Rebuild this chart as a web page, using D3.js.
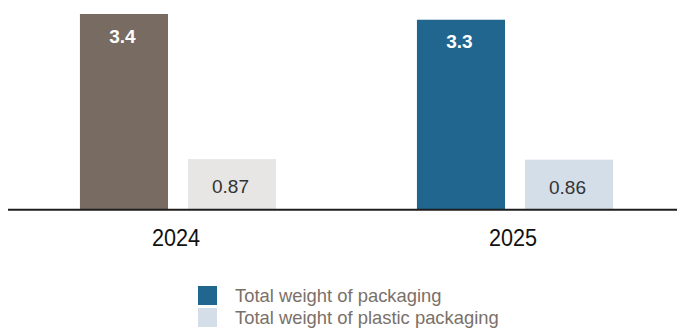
<!DOCTYPE html>
<html>
<head>
<meta charset="utf-8">
<script src="https://cdn.jsdelivr.net/npm/d3@7"></script>
<style>
  html, body { margin: 0; padding: 0; background: #fff; }
  svg { display: block; font-family: "Liberation Sans", Arial, sans-serif; }
</style>
</head>
<body>
<svg id="chart" width="677" height="328"></svg>
<script>
// Packaging weight per year
const years = ["2024", "2025"];
const seriesNames = ["Total weight of packaging", "Total weight of plastic packaging"];
const totalWeight = [3.4, 3.3];
const plasticWeight = [0.87, 0.86];
const valueLabels = [["3.4", "0.87"], ["3.3", "0.86"]];
// bar colours per year (total, plastic)
const yearColors = [["#786b61", "#e7e6e4"], ["#21668f", "#d4dee8"]];
const legendColors = ["#21668f", "#d4dee8"];

const rows = years.map((y, i) => ({
  year: y,
  values: [
    { key: seriesNames[0], value: totalWeight[i], label: valueLabels[i][0], color: yearColors[i][0], strong: true },
    { key: seriesNames[1], value: plasticWeight[i], label: valueLabels[i][1], color: yearColors[i][1], strong: false }
  ]
}));

const svg = d3.select("#chart");
const baseY = 209;

const x0 = d3.scaleBand().domain(years).range([9.5, 683.5])
  .paddingInner(0.418).paddingOuter(0.209);
const x1 = d3.scaleBand().domain(seriesNames).range([0, x0.bandwidth()])
  .paddingInner(0.185).paddingOuter(0);
const y = d3.scaleLinear().domain([0, 3.4]).range([baseY, 14]);

const groups = svg.selectAll("g.year").data(rows).join("g")
  .attr("class", "year")
  .attr("transform", d => `translate(${x0(d.year)},0)`);

groups.selectAll("rect").data(d => d.values).join("rect")
  .attr("x", d => x1(d.key))
  .attr("y", d => y(d.value))
  .attr("width", x1.bandwidth())
  .attr("height", d => y(0) - y(d.value))
  .attr("fill", d => d.color);

// value labels: inside top of tall bars, lower inside short bars
groups.selectAll("text.val").data(d => d.values).join("text")
  .attr("class", "val")
  .attr("x", d => x1(d.key) + x1.bandwidth() / 2 - 1.5)
  .attr("y", d => d.strong ? y(d.value) + 28.5 : y(d.value) + 34)
  .attr("text-anchor", "middle")
  .attr("font-size", 19)
  .attr("font-weight", d => d.strong ? "bold" : "normal")
  .attr("fill", d => d.strong ? "#ffffff" : "#333333")
  .text(d => d.label);

// baseline
svg.append("line")
  .attr("x1", 8).attr("x2", 677)
  .attr("y1", baseY + 0.8).attr("y2", baseY + 0.8)
  .attr("stroke", "#1e1e1e").attr("stroke-width", 2);

// year axis labels
const xAxis = d3.axisBottom(x0).tickSize(0).tickPadding(0);
const axisG = svg.append("g").attr("transform", `translate(0,${baseY})`).call(xAxis);
axisG.select(".domain").remove();
axisG.selectAll("text")
  .attr("dy", null)
  .attr("y", 37)
  .attr("x", -2)
  .attr("font-size", 23)
  .attr("textLength", 48)
  .attr("lengthAdjust", "spacingAndGlyphs")
  .attr("font-family", "\"Liberation Sans\", Arial, sans-serif")
  .attr("fill", "#111");

// legend
const legend = svg.append("g").attr("transform", "translate(198,286)");
const items = legend.selectAll("g").data(seriesNames).join("g")
  .attr("transform", (d, i) => `translate(0,${i * 22})`);
items.append("rect")
  .attr("width", 19).attr("height", 19)
  .attr("fill", (d, i) => legendColors[i]);
items.append("text")
  .attr("x", 37).attr("y", 16)
  .attr("font-size", 18.4)
  .attr("fill", "#7b7068")
  .text(d => d);
</script>
</body>
</html>
